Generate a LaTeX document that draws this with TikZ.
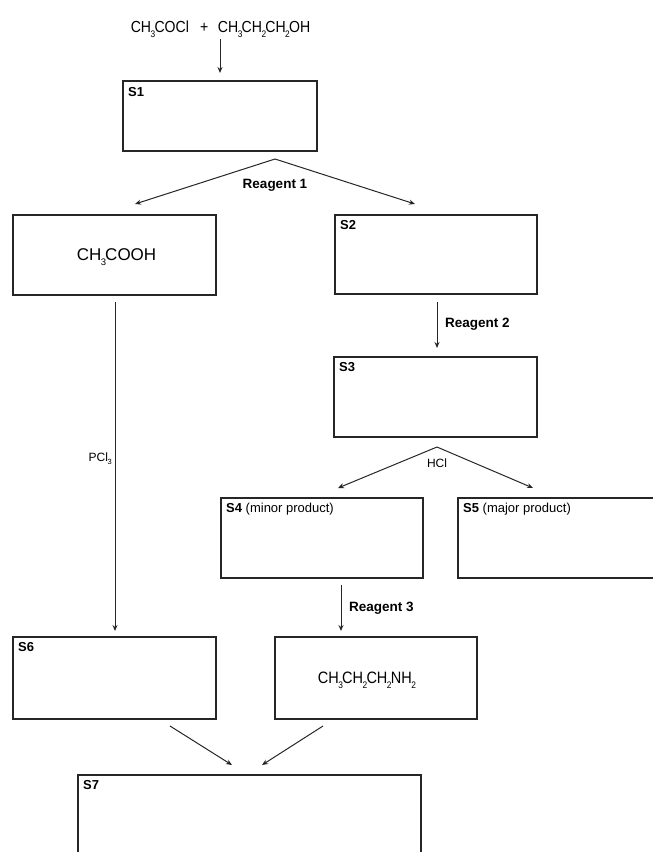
\documentclass[tikz,border=0pt]{standalone}
\usepackage{fontspec}
\setmainfont{Liberation Sans}
\newfontfamily\formulafont{Liberation Sans}[FakeStretch=0.88]
\usetikzlibrary{arrows.meta}
% chemical subscript: small digit set low and tight
\newcommand{\chsub}[1]{\kern-0.03em\raisebox{-0.34em}{\fontsize{9.5}{9.5}\selectfont #1}\kern-0.05em}
% smaller subscript for reagent labels
\newcommand{\rgsub}[1]{\kern-0.03em\raisebox{-0.3em}{\fontsize{7.5}{7.5}\selectfont #1}}

\begin{document}
\begin{tikzpicture}[x=1pt,y=-1pt,
  box/.style n args={2}{draw=black!85, line width=1.3pt, inner sep=0pt,
    minimum width=#1, minimum height=#2},
  tag/.style={font=\fontsize{13}{15}\selectfont, inner sep=0pt, anchor=base west},
  formula/.style={font=\formulafont\fontsize{16}{19}\selectfont, inner sep=0pt, anchor=base},
  reagent/.style={font=\bfseries\fontsize{13.5}{16}\selectfont, inner sep=0pt, anchor=base},
  small/.style={font=\fontsize{12}{14}\selectfont, inner sep=0pt, anchor=base},
  conn/.style={draw=black!85, line width=1pt, -{Stealth[length=6pt,width=5pt]}}]

\useasboundingbox (0,0) rectangle (653,852);
\clip (0,0) rectangle (653,852);

% starting materials
\node[formula] (start) at (220.5,32)
  {CH\chsub{3}COCl\hspace{0.7em}+\hspace{0.6em}CH\chsub{3}CH\chsub{2}CH\chsub{2}OH};

% boxes
\node[box={194pt}{70pt}] (s1) at (220,116) {};
\node[box={203pt}{80pt}] (acid) at (114.5,255) {};
\node[box={202pt}{79pt}] (s2) at (436,254.5) {};
\node[box={203pt}{80pt}] (s3) at (435.5,397) {};
\node[box={202pt}{80pt}] (s4) at (322,538) {};
\node[box={202pt}{80pt}] (s5) at (559,538) {};
\node[box={203pt}{82pt}] (s6) at (114.5,678) {};
\node[box={202pt}{82pt}] (amine) at (376,678) {};
\node[box={343pt}{130pt}] (s7) at (249.5,840) {};

% box labels
\node[tag] (s1tag) at (128,96) {\textbf{S1}};
\node[tag] (s2tag) at (340,229.5) {\textbf{S2}};
\node[tag] (s3tag) at (339,371.5) {\textbf{S3}};
\node[tag] (s4tag) at (226,512.5) {\textbf{S4} (minor product)};
\node[tag] (s5tag) at (463,512.5) {\textbf{S5} (major product)};
\node[tag] (s6tag) at (18,651.5) {\textbf{S6}};
\node[tag] (s7tag) at (83,789.5) {\textbf{S7}};

% formulas inside boxes
\node[formula, font=\fontsize{17}{20}\selectfont] (acidtxt) at (116.5,260) {CH\chsub{3}COOH};
\node[formula, font=\formulafont\fontsize{16.5}{20}\selectfont] (aminetxt) at (366.5,683)
  {CH\chsub{3}CH\chsub{2}CH\chsub{2}NH\chsub{2}};

% arrow end points
\coordinate (a0) at (220,39);   \coordinate (a1) at (220,73);
\coordinate (f1) at (275,159);  \coordinate (f1l) at (135,204); \coordinate (f1r) at (415,204);
\coordinate (p0) at (115,302);  \coordinate (p1) at (115,631);
\coordinate (r2a) at (437,302); \coordinate (r2b) at (437,348);
\coordinate (f2) at (437,447);  \coordinate (f2l) at (338,488); \coordinate (f2r) at (533,488);
\coordinate (r3a) at (341,585); \coordinate (r3b) at (341,631);
\coordinate (m1a) at (170,726); \coordinate (m1b) at (232,765);
\coordinate (m2a) at (323,726); \coordinate (m2b) at (262,765);

% connectors
\draw[conn] (a0) -- (a1);
\draw[conn] (f1) -- (f1l);
\draw[conn] (f1) -- (f1r);
\draw[conn] (p0) -- (p1);
\draw[conn] (r2a) -- (r2b);
\draw[conn] (f2) -- (f2l);
\draw[conn] (f2) -- (f2r);
\draw[conn] (r3a) -- (r3b);
\draw[conn] (m1a) -- (m1b);
\draw[conn] (m2a) -- (m2b);

% reagent labels
\node[reagent] (rg1) at (275,188) {Reagent 1};
\node[reagent, anchor=base west] (rg2) at (445,327) {Reagent 2};
\node[reagent, anchor=base west] (rg3) at (349,611) {Reagent 3};
\node[small] (hcl) at (437,467) {HCl};
\node[small, anchor=base east] (pcl) at (112,461) {PCl\rgsub{3}};
\end{tikzpicture}
\end{document}
